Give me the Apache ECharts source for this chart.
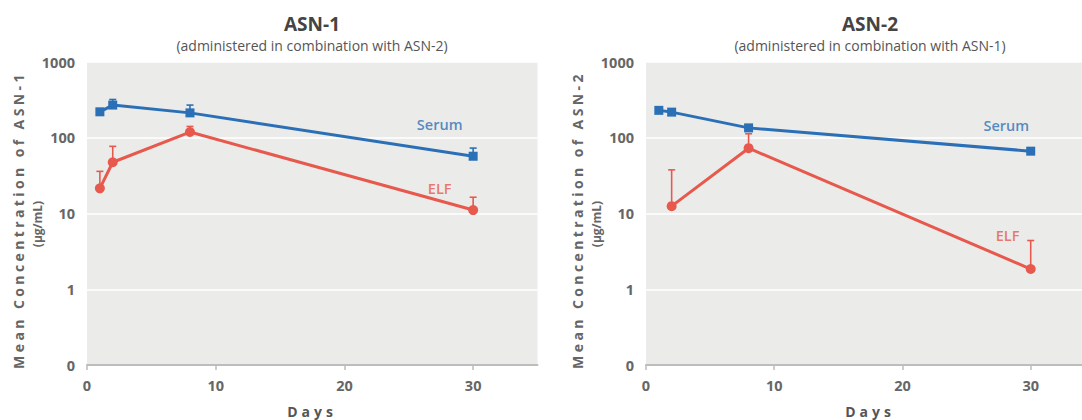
<!DOCTYPE html>
<html><head><meta charset="utf-8">
<script src="https://cdn.jsdelivr.net/npm/echarts@6/dist/echarts.min.js"></script>
<style>html,body{margin:0;padding:0;background:#fff;overflow:hidden}#c{width:1082px;height:420px}</style>
</head><body><div id="c"></div>
<script>
// ---- data ----
const xTicks = [0, 10, 20, 30];
const yTicks = [0.1, 1, 10, 100, 1000];
const yTickLabels = ['0', '1', '10', '100', '1000'];

const asn1SerumDays = [1, 2, 8, 30];
const asn1Serum = [220, 270, 213, 57];
const asn1SerumUpper = [null, 320, 270, 73];
const asn1ElfDays = [1, 2, 8, 30];
const asn1Elf = [21.5, 47.5, 119, 11.1];
const asn1ElfUpper = [36, 77, 141, 16.4];

const asn2SerumDays = [1, 2, 8, 30];
const asn2Serum = [230, 218, 135, 66.5];
const asn2SerumUpper = [null, null, null, null];
const asn2ElfDays = [2, 8, 30];
const asn2Elf = [12.5, 72.8, 1.85];
const asn2ElfUpper = [37.7, 113, 4.4];

const titles = ['ASN-1', 'ASN-2'];
const subtitles = ['(administered in combination with ASN-2)', '(administered in combination with ASN-1)'];
const yNames = ['Mean Concentration of ASN-1', 'Mean Concentration of ASN-2'];
const yUnit = '(\u00b5g/mL)';
const xName = 'Days';
const seriesNames = ['Serum', 'ELF'];
// label anchor positions (days, value) for in-plot series names
const asn1LabelPos = [[27.4, 150], [27.4, 21.3]];
const asn2LabelPos = [[28.1, 146], [28.2, 5.1]];

// ---- styles ----
const BLUE = '#2b70b6';
const RED = '#e8594d';
const FONT = "'Open Sans', sans-serif";

const pairs = (xs, ys) => xs.map((x, i) => [x, ys[i]]);
const errs = (xs, ys, us) => xs.map((x, i) => [x, ys[i], us[i]]).filter(d => d[2] != null);

function errItem(params, api) {
  const x = api.value(0), lo = api.value(1), hi = api.value(2);
  const p0 = api.coord([x, lo]);
  const p1 = api.coord([x, hi]);
  const w = 3.5;
  const style = { stroke: api.visual('color'), lineWidth: 1.6 };
  return {
    type: 'group',
    children: [
      { type: 'line', shape: { x1: p0[0], y1: p0[1], x2: p1[0], y2: p1[1] }, style },
      { type: 'line', shape: { x1: p1[0] - w, y1: p1[1], x2: p1[0] + w, y2: p1[1] }, style }
    ]
  };
}

// the right panel is cut off by the picture edge, so its visible axis ends earlier
const grids = [
  { left: 87, right: 544.5, top: 62, bottom: 55 },
  { left: 646, right: 0, top: 62, bottom: 55 }
];
const xMax = [35, 34];

function xAxis(i) {
  return {
    gridIndex: i, type: 'value', min: 0, max: xMax[i], interval: 10,
    axisLine: { show: true, lineStyle: { color: '#bdbdbd', width: 2 } },
    axisTick: { show: true, length: 5, customValues: xTicks, lineStyle: { color: '#bdbdbd', width: 1.5 } },
    axisLabel: { customValues: xTicks, color: '#666', fontSize: 14.5, fontWeight: 'bold', fontFamily: FONT, margin: 13 },
    splitLine: { show: false }
  };
}
function yAxis(i) {
  return {
    gridIndex: i, type: 'log', logBase: 10, min: 0.1, max: 1000,
    axisLine: { show: false }, axisTick: { show: false },
    axisLabel: {
      customValues: yTicks,
      formatter: v => { const k = yTicks.findIndex(t => Math.abs(t - v) < 1e-6 * Math.max(1, t)); return k >= 0 ? yTickLabels[k] : ''; },
      color: '#666', fontSize: 14.5, fontWeight: 'bold', fontFamily: FONT, margin: 12
    },
    splitLine: { show: true, lineStyle: { color: '#ffffff', width: 1.6 } }
  };
}

function lineSeries(i, name, color, symbol, data) {
  return {
    type: 'line', name, xAxisIndex: i, yAxisIndex: i, data,
    symbol, symbolSize: symbol === 'rect' ? 9 : 10,
    lineStyle: { color, width: 3 }, itemStyle: { color },
    z: 3
  };
}
function errSeries(i, color, data) {
  return { type: 'custom', xAxisIndex: i, yAxisIndex: i, data, renderItem: errItem, itemStyle: { color }, z: 2 };
}
function labelSeries(i, text, color, pos) {
  return {
    type: 'scatter', xAxisIndex: i, yAxisIndex: i, data: [pos], symbolSize: 0, silent: true,
    label: { show: true, position: 'inside', formatter: text, color, fontSize: 14.5, fontWeight: 600, fontFamily: FONT }
  };
}

const centers = [312, 870];
const graphic = [];
const yNameX = [18, 577];
const yUnitX = [37, 596];
for (let i = 0; i < 2; i++) {
  graphic.push({ type: 'text', x: centers[i], y: 24, style: { text: titles[i], fill: '#444', fontSize: 19, fontWeight: 'bold', fontFamily: FONT, align: 'center', verticalAlign: 'middle' } });
  graphic.push({ type: 'text', x: centers[i], y: 45, style: { text: subtitles[i], fill: '#555', fontSize: 14, fontFamily: FONT, align: 'center', verticalAlign: 'middle' } });
  graphic.push({ type: 'text', x: yNameX[i], y: 220, rotation: Math.PI / 2, style: { text: yNames[i], fill: '#666', fontSize: 14, fontWeight: 'bold', fontFamily: FONT, align: 'center', verticalAlign: 'middle' } });
  graphic.push({ type: 'text', x: yUnitX[i], y: 224, rotation: Math.PI / 2, style: { text: yUnit, fill: '#666', fontSize: 12, fontWeight: 'bold', fontFamily: FONT, align: 'center', verticalAlign: 'middle' } });
  graphic.push({ type: 'text', x: centers[i], y: 411, style: { text: xName, fill: '#555', fontSize: 14, fontWeight: 'bold', fontFamily: FONT, align: 'center', verticalAlign: 'middle' } });
}

const option = {
  animation: false,
  backgroundColor: '#ffffff',
  grid: grids.map(g => Object.assign({ show: true, backgroundColor: '#ebebea', borderWidth: 0 }, g)),
  xAxis: [xAxis(0), xAxis(1)],
  yAxis: [yAxis(0), yAxis(1)],
  graphic,
  series: [
    errSeries(0, BLUE, errs(asn1SerumDays, asn1Serum, asn1SerumUpper)),
    errSeries(0, RED, errs(asn1ElfDays, asn1Elf, asn1ElfUpper)),
    lineSeries(0, seriesNames[0], BLUE, 'rect', pairs(asn1SerumDays, asn1Serum)),
    lineSeries(0, seriesNames[1], RED, 'circle', pairs(asn1ElfDays, asn1Elf)),
    labelSeries(0, seriesNames[0], BLUE, asn1LabelPos[0]),
    labelSeries(0, seriesNames[1], RED, asn1LabelPos[1]),
    errSeries(1, BLUE, errs(asn2SerumDays, asn2Serum, asn2SerumUpper)),
    errSeries(1, RED, errs(asn2ElfDays, asn2Elf, asn2ElfUpper)),
    lineSeries(1, seriesNames[0], BLUE, 'rect', pairs(asn2SerumDays, asn2Serum)),
    lineSeries(1, seriesNames[1], RED, 'circle', pairs(asn2ElfDays, asn2Elf)),
    labelSeries(1, seriesNames[0], BLUE, asn2LabelPos[0]),
    labelSeries(1, seriesNames[1], RED, asn2LabelPos[1])
  ]
};

const chart = echarts.init(document.getElementById('c'), null, { renderer: 'svg' });
chart.setOption(option);

function applySpacing() {
  document.querySelectorAll('#c text').forEach(t => {
    const s = t.textContent;
    if (yNames.indexOf(s) >= 0) t.setAttribute('letter-spacing', '3.4');
    else if (s === xName) t.setAttribute('letter-spacing', '4');
  });
}
applySpacing();
chart.on('finished', applySpacing);
</script>
</body></html>
